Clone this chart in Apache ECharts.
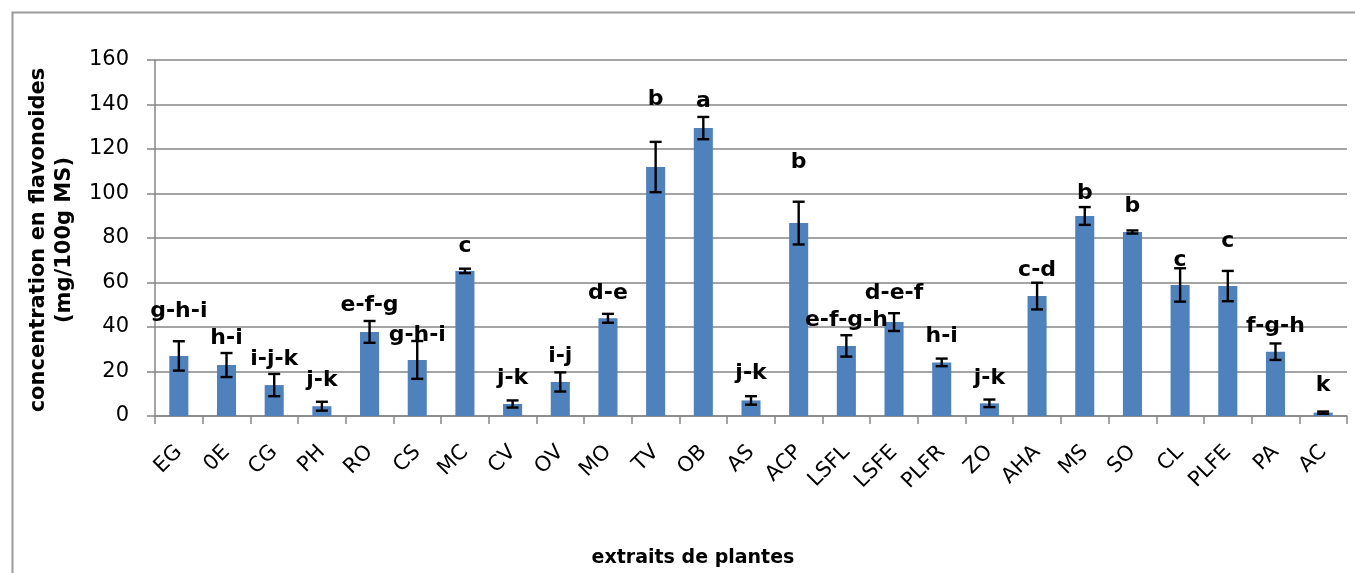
<!DOCTYPE html>
<html>
<head>
<meta charset="utf-8">
<script src="https://cdn.jsdelivr.net/npm/echarts@6/dist/echarts.min.js"></script>
<style>
html,body{margin:0;padding:0;background:#fff;}
#chart{width:1355px;height:573px;}
</style>
</head>
<body>
<div id="chart"></div>
<script>
const categories = ['EG','0E','CG','PH','RO','CS','MC','CV','OV','MO','TV','OB','AS','ACP','LSFL','LSFE','PLFR','ZO','AHA','MS','SO','CL','PLFE','PA','AC'];
const values = [27.0, 22.9, 13.9, 4.4, 37.8, 25.2, 65.2, 5.4, 15.3, 43.9, 111.9, 129.4, 7.0, 86.7, 31.5, 42.2, 24.1, 5.7, 53.9, 89.9, 82.7, 58.9, 58.4, 28.9, 1.5];
const errors = [6.6, 5.4, 5.0, 2.0, 4.9, 8.5, 1.0, 1.6, 4.3, 2.0, 11.3, 5.0, 1.9, 9.6, 4.8, 4.0, 1.7, 1.7, 6.0, 4.0, 0.7, 7.5, 6.8, 3.7, 0.5];
const letters = ['g-h-i','h-i','i-j-k','j-k','e-f-g','g-h-i','c','j-k','i-j','d-e','b','a','j-k','b','e-f-g-h','d-e-f','h-i','j-k','c-d','b','b','c','c','f-g-h','k'];
const letterLevels = [47.2, 34.8, 25.4, 16.0, 49.7, 36.2, 76.2, 16.9, 26.7, 55.1, 142.2, 141.3, 19.1, 113.9, 42.9, 55.1, 35.7, 16.9, 65.4, 100.0, 94.2, 69.9, 78.4, 40.2, 13.7];
const yTicks = [0, 20, 40, 60, 80, 100, 120, 140, 160];

const chart = echarts.init(document.getElementById('chart'), null, {renderer:'canvas'});
const errData = categories.map((c, i) => [i, values[i] - errors[i], values[i] + errors[i]]);
const letterData = categories.map((c, i) => ({value: [i, letterLevels[i]], name: letters[i]}));

const option = {
  backgroundColor: '#fff',
  animation: false,
  grid: {left: 155, right: 8, top: 60, bottom: 157, containLabel: false},
  xAxis: {
    type: 'category',
    data: categories,
    axisLine: {show: true, lineStyle: {color: '#868686', width: 1.5}},
    axisTick: {show: true, length: 8, alignWithLabel: false, lineStyle: {color: '#868686', width: 1.5}},
    axisLabel: {rotate: 45, margin: 33, interval: 0, color: '#000', fontFamily: 'DejaVu Sans', fontSize: 21},
    splitLine: {show: false}
  },
  yAxis: {
    type: 'value',
    min: yTicks[0], max: yTicks[yTicks.length - 1], interval: 20,
    axisLine: {show: true, lineStyle: {color: '#868686', width: 1.5}},
    axisTick: {show: true, length: 8, lineStyle: {color: '#868686', width: 1.5}},
    axisLabel: {margin: 26, color: '#000', fontFamily: 'DejaVu Sans', fontSize: 21},
    splitLine: {show: true, lineStyle: {color: '#868686', width: 1.5}}
  },
  series: [
    {
      type: 'bar',
      data: values,
      barWidth: '40%',
      itemStyle: {color: '#4f81bd'},
      z: 2
    },
    {
      type: 'custom',
      data: errData,
      z: 3,
      renderItem: function (params, api) {
        const x = api.value(0);
        const lo = api.coord([x, api.value(1)]);
        const hi = api.coord([x, api.value(2)]);
        const hw = 6;
        const st = {stroke: '#000', lineWidth: 2.4};
        return {
          type: 'group',
          children: [
            {type: 'line', shape: {x1: lo[0], y1: lo[1], x2: hi[0], y2: hi[1]}, style: st},
            {type: 'line', shape: {x1: lo[0] - hw, y1: lo[1], x2: lo[0] + hw, y2: lo[1]}, style: st},
            {type: 'line', shape: {x1: hi[0] - hw, y1: hi[1], x2: hi[0] + hw, y2: hi[1]}, style: st}
          ]
        };
      }
    },
    {
      type: 'scatter',
      data: letterData,
      symbolSize: 1,
      itemStyle: {opacity: 1, color: 'rgba(0,0,0,0)'},
      z: 4,
      label: {
        show: true,
        position: 'inside',
        formatter: p => p.name,
        color: '#000',
        opacity: 1,
        fontFamily: 'DejaVu Sans',
        fontWeight: 'bold',
        fontSize: 22
      }
    }
  ],
  graphic: [
    {type: 'rect', left: 10, top: 10, shape: {width: 1400, height: 600}, style: {fill: 'none', stroke: '#9a9a9a', lineWidth: 2}, z: -10, silent: true},
    {type: 'text', x: 52, y: 240, rotation: Math.PI / 2,
     style: {text: 'concentration en flavonoides\n(mg/100g MS)', align: 'center', verticalAlign: 'middle', fontFamily: 'DejaVu Sans', fontWeight: 'bold', fontSize: 21, lineHeight: 26, fill: '#000'}},
    {type: 'text', x: 693, y: 558,
     style: {text: 'extraits de plantes', align: 'center', verticalAlign: 'middle', fontFamily: 'DejaVu Sans', fontWeight: 'bold', fontSize: 19, fill: '#000'}}
  ]
};
chart.setOption(option);
</script>
</body>
</html>
